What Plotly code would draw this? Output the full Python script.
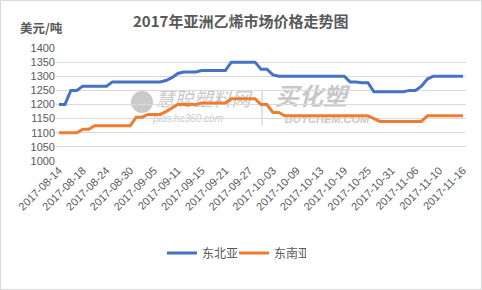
import datetime as dt
import plotly.graph_objects as go

# ---- data ----
start = dt.date(2017, 8, 14)
dates = []
d = start
while len(dates) < 69:
    if d.weekday() < 5:
        dates.append(d.isoformat())
    d += dt.timedelta(days=1)

northeast = ([1200] * 2 + [1250] * 2 + [1265] * 5 + [1280] * 9 + [1285, 1295, 1310]
             + [1315] * 3 + [1320] * 5 + [1350] * 5 + [1325] * 2 + [1305]
             + [1300] * 12 + [1280] * 2 + [1277] * 2 + [1245] * 6 + [1250] * 2
             + [1265, 1290] + [1300] * 6)
southeast = ([1100] * 4 + [1112] * 2 + [1125] * 7 + [1155] * 2 + [1165] * 3
             + [1175, 1188] + [1200] * 4 + [1205] * 5 + [1220] * 5 + [1200] * 2
             + [1172] * 2 + [1160] * 15 + [1150] + [1140] * 8 + [1160] * 7)

tick_dates = dates[::4]
y_ticks = list(range(1000, 1401, 50))

names = ["东北亚", "东南亚"]
colors = ["#4472C4", "#ED7D31"]

FONT = "Liberation Sans, Arial, Noto Sans CJK SC, sans-serif"
GRAY = "#595959"

fig = go.Figure()
for nm, vals, c in zip(names, [northeast, southeast], colors):
    fig.add_trace(go.Scatter(x=dates, y=vals, mode="lines", name=nm,
                             line=dict(color=c, width=3)))

W, H = 482, 290
L, R, T, B = 56, 16, 48, 129
pw, ph = W - L - R, H - T - B

def px2paper(x, y):
    return (x - L) / pw, (H - B - y) / ph

fig.update_layout(
    width=W, height=H,
    margin=dict(l=L, r=R, t=T, b=B),
    paper_bgcolor="white", plot_bgcolor="white",
    font=dict(family=FONT, size=11, color=GRAY),
    showlegend=True,
    legend=dict(orientation="h", x=px2paper(162, 0)[0], xanchor="left",
                y=px2paper(0, 253)[1], yanchor="middle",
                font=dict(size=12, color=GRAY, family="Noto Sans CJK SC"),
                entrywidth=27, entrywidthmode="pixels",
                itemwidth=30, tracegroupgap=0, bgcolor="rgba(0,0,0,0)"),
    xaxis=dict(type="category", categoryorder="array", categoryarray=dates,
               tickmode="array", tickvals=tick_dates, ticktext=tick_dates,
               tickangle=-45, showgrid=False, showline=False, ticks="",
               tickfont=dict(size=11, color=GRAY), range=[-0.5, len(dates) - 0.5]),
    yaxis=dict(range=[1000, 1400], tickmode="array", tickvals=y_ticks,
               showgrid=True, gridcolor="#D9D9D9", gridwidth=1, zeroline=False,
               showline=False, ticks="", tickfont=dict(size=11, color=GRAY)),
)

# title and unit
tx, ty = px2paper(240, 20)
fig.add_annotation(text="<b>2017年亚洲乙烯市场价格走势图</b>", x=tx, y=ty, xref="paper", yref="paper",
                   xanchor="center", yanchor="middle", showarrow=False,
                   font=dict(size=15, color=GRAY, family="Noto Sans CJK SC"))
ux, uy = px2paper(41, 28)
fig.add_annotation(text="<b>美元/吨</b>", x=ux, y=uy, xref="paper", yref="paper",
                   xanchor="center", yanchor="middle", showarrow=False,
                   font=dict(size=12.5, color=GRAY, family="Noto Sans CJK SC"))

# watermarks (drawn under the lines)
WM = "rgba(150,150,150,0.55)"
cx0, cy0 = px2paper(131, 91)
cx1, cy1 = px2paper(153, 113)
fig.add_shape(type="circle", xref="paper", yref="paper", x0=cx0, y0=cy0, x1=cx1, y1=cy1,
              fillcolor="rgba(150,150,150,0.5)", line=dict(width=0), layer="between")
sx, sy0 = px2paper(262, 125)
_, sy1 = px2paper(262, 90)
fig.add_shape(type="line", xref="paper", yref="paper", x0=sx, x1=sx, y0=sy0, y1=sy1,
              line=dict(color=WM, width=1), layer="between")
for txt, x, y, sz, fam in [("<i>慧聪塑料网</i>", 203, 100, 19, "Noto Sans CJK SC"),
                            ("<i>plas.hc360.com</i>", 188, 117, 10, "Liberation Sans"),
                            ("<b><i>买化塑</i></b>", 311, 98, 24, "Noto Sans CJK SC"),
                            ("<b><i>BUYCHEM.COM</i></b>", 327, 118, 11, "Liberation Sans")]:
    ax0, ay0 = px2paper(x - 5, y - 5)
    ax1, ay1 = px2paper(x + 5, y + 5)
    fig.add_shape(type="rect", xref="paper", yref="paper", x0=ax0, x1=ax1, y0=ay1, y1=ay0,
                  line=dict(width=0), fillcolor="rgba(0,0,0,0)", layer="between",
                  label=dict(text=txt, textposition="middle center",
                             font=dict(size=sz, color=WM, family=fam)))

# outer border
x0, y0 = px2paper(0.5, 289.5)
x1, y1 = px2paper(481.5, 0.5)
fig.add_shape(type="rect", xref="paper", yref="paper", x0=x0, y0=y0, x1=x1, y1=y1,
              line=dict(color="#D9D9D9", width=1), layer="below")

fig.write_html("out.html")
